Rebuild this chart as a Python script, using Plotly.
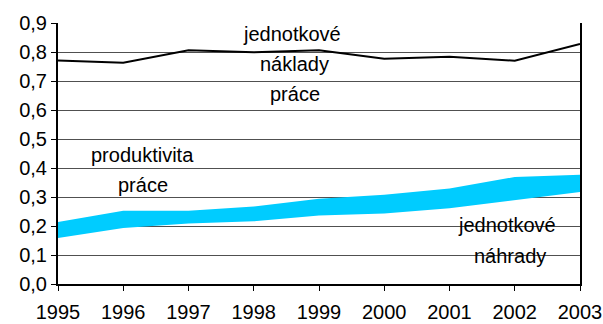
import plotly.graph_objects as go

# Years on the horizontal axis
years = [1995, 1996, 1997, 1998, 1999, 2000, 2001, 2002, 2003]

# Unit labour costs (black line)
jednotkove_naklady = [0.771, 0.763, 0.806, 0.799, 0.806, 0.777, 0.784, 0.770, 0.828]

# Labour productivity (upper edge of the band)
produktivita_prace = [0.214, 0.253, 0.253, 0.267, 0.294, 0.308, 0.329, 0.369, 0.377]

# Unit compensation (lower edge of the band)
jednotkove_nahrady = [0.159, 0.193, 0.209, 0.216, 0.236, 0.243, 0.261, 0.290, 0.317]

y_ticks = [0.0, 0.1, 0.2, 0.3, 0.4, 0.5, 0.6, 0.7, 0.8, 0.9]

FONT = "Liberation Sans, Arial, sans-serif"
BAND = "#00CCFF"

fig = go.Figure()

# Band between compensation and productivity
fig.add_trace(go.Scatter(
    x=years, y=jednotkove_nahrady, mode="lines",
    line=dict(width=0, color=BAND), hoverinfo="skip", showlegend=False,
))
fig.add_trace(go.Scatter(
    x=years, y=produktivita_prace, mode="lines",
    line=dict(width=0, color=BAND), fill="tonexty", fillcolor=BAND,
    showlegend=False,
))

# Unit labour costs
fig.add_trace(go.Scatter(
    x=years, y=jednotkove_naklady, mode="lines",
    line=dict(width=2, color="black"), showlegend=False,
))

labels = [
    ("jednotkové", 1998.59, 0.862),
    ("náklady", 1998.63, 0.759),
    ("práce", 1998.63, 0.655),
    ("produktivita", 1996.30, 0.445),
    ("práce", 1996.30, 0.341),
    ("jednotkové", 2001.88, 0.203),
    ("náhrady", 2001.93, 0.097),
]
for text, x, y in labels:
    fig.add_annotation(
        x=x, y=y, text=text, showarrow=False,
        font=dict(family=FONT, size=20, color="black"),
        xanchor="center", yanchor="middle",
    )

fig.update_layout(
    width=603, height=324,
    margin=dict(l=58, r=23, t=23, b=40, autoexpand=False),
    paper_bgcolor="white", plot_bgcolor="white",
    separators=", ",
    font=dict(family=FONT, color="black"),
)

fig.update_xaxes(
    range=[1995, 2003], tickmode="array", tickvals=years,
    ticktext=[str(y) for y in years],
    showgrid=False, zeroline=False, automargin=False,
    ticklabeloverflow="allow", ticklabelstandoff=4,
    showline=True, linecolor="black", linewidth=2,
    ticks="outside", ticklen=5, tickcolor="black", tickwidth=1,
    tickfont=dict(family=FONT, size=20, color="black"),
)
fig.update_yaxes(
    range=[0, 0.9], tickmode="array", tickvals=y_ticks,
    tickformat=".1f", automargin=False,
    showgrid=True, gridcolor="#505050", gridwidth=1,
    zeroline=False,
    showline=True, linecolor="black", linewidth=2, mirror=True,
    ticks="outside", ticklen=5, tickcolor="black", tickwidth=1,
    tickfont=dict(family=FONT, size=20, color="black"),
)

fig.write_html("out.html")
